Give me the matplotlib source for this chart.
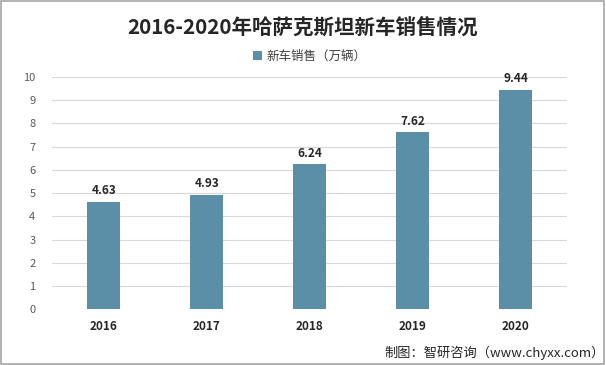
import matplotlib
matplotlib.use('Agg')
import matplotlib.pyplot as plt
from matplotlib.patches import Rectangle

plt.rcParams['font.family'] = ['Noto Sans CJK SC', 'DejaVu Sans']

years = ['2016', '2017', '2018', '2019', '2020']
sales = [4.63, 4.93, 6.24, 7.62, 9.44]
bar_color = '#5b8fa7'

fig = plt.figure(figsize=(6.06, 3.65), dpi=100)
ax = fig.add_axes([0.086, 0.153, 0.85, 0.636])

bars = ax.bar(years, sales, width=0.32, color=bar_color, label='新车销售（万辆）', zorder=3)
for b, v in zip(bars, sales):
    ax.text(b.get_x() + b.get_width() / 2, v + 0.2, f'{v:.2f}', ha='center', va='bottom',
            fontsize=8.5, fontweight='bold', color='#262626')

ax.set_ylim(0, 10)
ax.set_yticks(range(0, 11))
ax.set_xlim(-0.5, 4.5)
ax.grid(axis='y', color='#d9d9d9', linewidth=0.8, zorder=0)
for s in ax.spines.values():
    s.set_visible(False)
ax.tick_params(axis='both', length=0)
ax.tick_params(axis='y', labelsize=8, labelcolor='#595959', pad=12)
ax.tick_params(axis='x', labelsize=8.5, labelcolor='#262626', pad=8)
for lbl in ax.get_xticklabels():
    lbl.set_fontweight('bold')

fig.text(0.5, 0.925, '2016-2020年哈萨克斯坦新车销售情况', ha='center', va='center',
         fontsize=14.8, fontweight='bold', color='#262626')
ax.legend(loc='center', bbox_to_anchor=(0.5, 1.088), frameon=False, fontsize=9,
          handlelength=0.7, handleheight=0.7, handletextpad=0.4, labelcolor='#404040')

fig.text(0.998, 0.033, '制图：智研咨询（www.chyxx.com）', ha='right', va='center',
         fontsize=9.5, color='#262626')

fig.patches.append(Rectangle((0.002, 0.003), 0.995, 0.993, transform=fig.transFigure,
                             fill=False, edgecolor='#a6a6a6', linewidth=1.2))

fig.savefig('out.png', dpi=100)
